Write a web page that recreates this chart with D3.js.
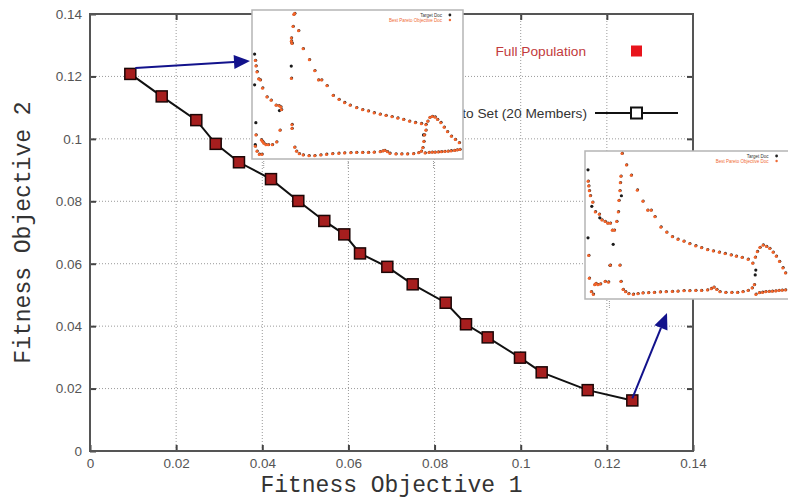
<!DOCTYPE html>
<html>
<head>
<meta charset="utf-8">
<script src="https://cdn.jsdelivr.net/npm/d3@7"></script>
<style>
  body { margin: 0; background: #fff; }
  svg { display: block; }
</style>
</head>
<body>
<script>
// pareto front (20 members)
var objective1 = [0.00936, 0.01665, 0.02468, 0.02918, 0.03459, 0.04202, 0.04836, 0.05440, 0.05904, 0.06269,
                  0.06903, 0.07492, 0.08258, 0.08730, 0.09233, 0.09983, 0.10487, 0.11555, 0.12591];
var objective2 = [0.1208, 0.1136, 0.1060, 0.0984, 0.0925, 0.0871, 0.0801, 0.0737, 0.0694, 0.0633,
                  0.0590, 0.0534, 0.0475, 0.0406, 0.0364, 0.0299, 0.0252, 0.0195, 0.0162];
var tickValues = [0, 0.02, 0.04, 0.06, 0.08, 0.1, 0.12, 0.14];
var legendLabels = ["Full Population", "Pareto Set (20 Members)"];
var insetLegend = ["Target Doc", "Best Pareto Objective Doc"];

// inset 1 (first member), both series nearly overlap
var insetA_best = [[0.6,66.5],[0.9,62.7],[1.4,58.7],[2.2,53.8],[3.0,53.1],[4.1,47.5],[6.2,41.3],[8.2,39.1],[10.6,35.7],[12.0,35.3],
  [12.9,34.4],[13.2,32.6],[18.0,54.2],[18.0,79.9],[18.0,82.1],[18.3,78.3],[18.8,90.0],[19.2,98.2],[19.6,98.9],[21.5,87.1],
  [23.7,74.6],[26.7,67.0],[29.3,59.4],[31.1,53.1],[32.6,53.1],[35.2,49.1],[38.2,42.4],[41.0,39.7],[43.7,37.5],[46.4,35.7],
  [49.5,33.9],[52.4,32.6],[55.2,31.7],[58.0,30.4],[60.9,29.5],[63.7,28.6],[66.6,27.7],[69.4,26.8],[72.2,25.9],[75.1,24.6],
  [77.9,23.7],[80.8,23.0],[83.0,22.3],[83.9,24.6],[84.9,27.2],[86.1,27.9],[87.4,27.5],[88.6,25.9],[90.2,23.7],[91.8,20.5],
  [93.4,17.4],[95.3,14.3],[97.2,12.1],[99.1,9.8],
  [0.9,15.2],[0.6,7.4],[1.4,4.0],[2.5,1.8],[3.8,1.8],[3.5,11.8],[4.1,10.7],[4.7,9.4],[5.7,8.5],[6.9,8.5],[8.8,8.5],[10.9,10.3],
  [12.5,18.5],[18.3,22.3],[18.3,19.6],[19.6,6.7],[20.5,4.0],[21.8,2.2],[23.7,1.3],[26.5,0.9],[29.3,0.9],[32.2,1.3],[35.0,1.8],
  [37.9,2.2],[40.9,2.5],[43.7,2.7],[46.7,2.9],[49.5,3.1],[52.4,3.1],[55.2,3.1],[58.0,3.3],[60.9,3.6],[62.2,4.1],[63.1,4.5],
  [64.4,3.6],[65.6,2.5],[68.5,2.0],[71.3,2.0],[74.1,2.0],[77.0,2.2],[79.5,2.9],[80.8,4.0],[81.5,6.3],[82.0,10.7],[82.3,15.2],
  [83.0,18.5],[82.6,2.7],[84.5,3.1],[86.0,3.2],[87.4,3.3],[89.0,3.4],[90.5,3.6],[92.1,3.8],[93.7,4.0],[95.2,4.2],[96.8,4.5],
  [98.1,4.8],[99.4,5.1]];
var insetA_target = [[0.3,71.0],[0.3,49.8],[0.9,23.7],[18.0,62.7],[81.9,15.2],[0.6,8.5],[12.3,32.0],[18.3,79.0]];

// inset 2 (last member)
var insetB_best = [[0.5,80.4],[0.8,77.1],[1.1,73.7],[1.6,70.3],[2.8,65.8],[4.1,59.1],[6.1,57.5],[7.4,53.5],[9.0,52.4],[10.3,51.2],
  [11.6,51.2],[12.6,46.3],[13.6,46.3],[14.8,52.4],[15.6,59.1],[15.9,67.0],[16.4,73.7],[16.6,79.3],[16.9,83.8],[17.5,99.6],
  [19.7,91.7],[22.1,84.5],[25.1,74.2],[27.9,66.5],[30.3,60.2],[32.0,60.2],[33.9,55.7],[36.9,48.5],[39.8,44.9],[42.6,41.8],
  [45.4,40.0],[48.4,38.7],[51.3,36.9],[54.3,35.5],[57.2,34.2],[60.2,32.8],[63.1,31.9],[66.1,31.0],[69.0,30.1],[72.0,29.2],
  [74.6,28.3],[77.5,27.4],[80.5,26.1],[82.8,23.4],[84.1,27.6],[85.1,31.5],[86.4,34.4],[88.0,36.0],[89.7,35.1],[91.3,33.7],
  [93.0,31.0],[94.6,28.3],[96.2,24.7],[97.9,20.2],[99.2,16.6],
  [0.8,28.8],[1.1,13.0],[2.1,3.6],[3.1,1.8],[3.8,8.5],[4.4,9.4],[5.4,8.5],[6.7,9.0],[9.0,10.8],[10.7,10.3],[11.6,22.0],
  [16.4,22.0],[16.9,10.8],[18.0,5.2],[19.2,3.6],[20.8,2.2],[23.1,1.8],[25.4,2.2],[27.9,2.7],[30.7,2.9],[33.6,3.1],[36.6,3.4],
  [39.5,3.6],[42.6,3.8],[45.4,4.0],[48.4,4.3],[51.3,4.3],[54.3,4.5],[57.2,4.5],[60.2,4.9],[62.1,5.8],[63.4,6.7],[64.8,5.2],
  [66.4,3.6],[69.3,3.1],[72.3,3.1],[75.2,3.1],[77.9,3.6],[80.5,4.5],[82.5,6.3],[83.6,8.5],[84.4,1.8],[86.1,2.9],[87.7,3.2],
  [89.3,3.6],[91.0,3.8],[92.6,4.0],[94.3,4.2],[95.9,4.5],[97.5,4.7],[99.2,4.9]];
var insetB_target = [[0.5,88.3],[0.5,41.1],[13.1,36.6],[11.5,22.0],[17.2,70.3],[84.4,18.7],[84.1,15.3],[2.4,63.0],[6.4,55.0]];

var width = 788,
    height = 501;

var svg = d3.select("body").append("svg")
    .attr("width", width)
    .attr("height", height);

var x = d3.scaleLinear().domain([0, 0.14]).range([90, 693]);
var y = d3.scaleLinear().domain([0, 0.14]).range([451, 14]);
var fmt = function(d){ return String(+d.toFixed(2)); };
var inner = tickValues.slice(1, -1);

//grid
svg.selectAll(".vgrid").data(inner).enter().append("line")
    .attr("x1", function(d){ return x(d); }).attr("x2", function(d){ return x(d); })
    .attr("y1", y(0)).attr("y2", y(0.14))
    .attr("stroke", "#9a9a9a").attr("stroke-width", 1).attr("stroke-dasharray", "1,2");
svg.selectAll(".hgrid").data(inner).enter().append("line")
    .attr("y1", function(d){ return y(d); }).attr("y2", function(d){ return y(d); })
    .attr("x1", x(0)).attr("x2", x(0.14))
    .attr("stroke", "#9a9a9a").attr("stroke-width", 1).attr("stroke-dasharray", "1,2");

//axes, gnuplot style ticks pointing in
function styleAxis(g){
    g.select(".domain").remove();
    g.selectAll(".tick line").attr("stroke", "#444").attr("stroke-width", 2);
    g.selectAll(".tick text").attr("fill", "#555")
        .style("font-family", "'Liberation Sans', Arial, sans-serif").style("font-size", "13.5px");
}
svg.append("g").attr("transform", "translate(0," + y(0) + ")")
    .call(d3.axisBottom(x).tickValues(tickValues).tickFormat(fmt).tickSize(-6).tickPadding(7))
    .call(styleAxis);
svg.append("g").attr("transform", "translate(" + x(0) + ",0)")
    .call(d3.axisLeft(y).tickValues(tickValues).tickFormat(fmt).tickSize(-6).tickPadding(8))
    .call(styleAxis);
svg.append("g").attr("transform", "translate(0," + y(0.14) + ")")
    .call(d3.axisTop(x).tickValues(inner).tickFormat("").tickSize(-6))
    .call(styleAxis);
svg.append("g").attr("transform", "translate(" + x(0.14) + ",0)")
    .call(d3.axisRight(y).tickValues(inner).tickFormat("").tickSize(-6))
    .call(styleAxis);

svg.append("rect")
    .attr("x", x(0)).attr("y", y(0.14))
    .attr("width", x(0.14) - x(0)).attr("height", y(0) - y(0.14))
    .attr("fill", "none").attr("stroke", "#555").attr("stroke-width", 2);

//axis titles
svg.append("text")
    .attr("x", (x(0) + x(0.14)) / 2).attr("y", 492)
    .attr("text-anchor", "middle")
    .style("font-family", "'Liberation Mono', 'Courier New', monospace").style("font-size", "23px")
    .attr("fill", "#333")
    .text("Fitness Objective 1");
svg.append("text")
    .attr("transform", "translate(30," + (y(0) + y(0.14)) / 2 + ") rotate(-90)")
    .attr("text-anchor", "middle")
    .style("font-family", "'Liberation Mono', 'Courier New', monospace").style("font-size", "23px")
    .attr("fill", "#333")
    .text("Fitness Objective 2");

//legend
var legFont = "'Liberation Sans', Arial, sans-serif";
svg.append("text").attr("x", 586).attr("y", 51).attr("dy", "0.35em")
    .attr("text-anchor", "end").style("font-family", legFont).style("font-size", "13.7px")
    .attr("fill", "#c23a3c").text(legendLabels[0]);
svg.append("rect").attr("x", 631).attr("y", 45.5).attr("width", 11).attr("height", 11)
    .attr("fill", "#e8141c");
svg.append("text").attr("x", 587).attr("y", 113).attr("dy", "0.35em")
    .attr("text-anchor", "end").style("font-family", legFont).style("font-size", "13.7px")
    .attr("fill", "#333").text(legendLabels[1]);
svg.append("line").attr("x1", 595).attr("x2", 678).attr("y1", 113).attr("y2", 113)
    .attr("stroke", "#111").attr("stroke-width", 2);
svg.append("rect").attr("x", 631).attr("y", 107.5).attr("width", 11).attr("height", 11)
    .attr("fill", "#fff").attr("stroke", "#111").attr("stroke-width", 2);

//pareto line and markers
var pts = objective1.map(function(d, i){ return [d, objective2[i]]; });
svg.append("path")
    .datum(pts)
    .attr("d", d3.line().x(function(d){ return x(d[0]); }).y(function(d){ return y(d[1]); }))
    .attr("fill", "none").attr("stroke", "#111").attr("stroke-width", 2);
svg.selectAll(".member").data(pts).enter().append("rect")
    .attr("x", function(d){ return x(d[0]) - 5.5; })
    .attr("y", function(d){ return y(d[1]) - 5.5; })
    .attr("width", 11).attr("height", 11)
    .attr("fill", "#a61e1e").attr("stroke", "#1c0606").attr("stroke-width", 1.5);

//insets
function drawInset(box, best, target, ticks){
    var g = svg.append("g");
    var ix = d3.scaleLinear().domain([0, 100]).range([box.x + 2, box.x + box.w - 2]);
    var iy = d3.scaleLinear().domain([0, 100]).range([box.y + box.h - 2, box.y + 2]);
    g.append("rect").attr("x", box.x).attr("y", box.y).attr("width", box.w).attr("height", box.h)
        .attr("fill", "#fff").attr("stroke", "#b5b5b5").attr("stroke-width", 1.5);
    g.selectAll(".tk").data(ticks).enter().append("line")
        .attr("x1", function(d){ return ix(d); }).attr("x2", function(d){ return ix(d); })
        .attr("y1", box.y + box.h + 2).attr("y2", box.y + box.h + 9)
        .attr("stroke", "#999").attr("stroke-width", 1).attr("stroke-dasharray", "1,1");
    g.selectAll(".bk").data(best).enter().append("circle")
        .attr("cx", function(d){ return ix(d[0]) + 0.4; }).attr("cy", function(d){ return iy(d[1]) - 0.3; })
        .attr("r", 1.5).attr("fill", "#2a2220");
    g.selectAll(".tg").data(target).enter().append("circle")
        .attr("cx", function(d){ return ix(d[0]); }).attr("cy", function(d){ return iy(d[1]); })
        .attr("r", 1.6).attr("fill", "#1a1a1a");
    g.selectAll(".bs").data(best).enter().append("circle")
        .attr("cx", function(d){ return ix(d[0]); }).attr("cy", function(d){ return iy(d[1]); })
        .attr("r", 1.5).attr("fill", "#f4652a");
    //tiny legend
    var lx = box.x + box.w * 0.9;
    g.append("text").attr("x", lx).attr("y", box.y + 6.5).attr("text-anchor", "end")
        .style("font-family", legFont).style("font-size", "4.5px").attr("fill", "#333").text(insetLegend[0]);
    g.append("text").attr("x", lx).attr("y", box.y + 11.5).attr("text-anchor", "end")
        .style("font-family", legFont).style("font-size", "4.5px").attr("fill", "#ef6a35").text(insetLegend[1]);
    g.append("circle").attr("cx", lx + 8).attr("cy", box.y + 5).attr("r", 1.4).attr("fill", "#222");
    g.append("circle").attr("cx", lx + 8).attr("cy", box.y + 10).attr("r", 1.2).attr("fill", "#ef6a35");
}
drawInset({x: 252, y: 10, w: 211, h: 149}, insetA_best, insetA_target, [4.7, 45.5, 86.7]);
drawInset({x: 585, y: 151, w: 204, h: 148}, insetB_best, insetB_target, [11.2]);

//arrows to insets
function arrow(x1, y1, x2, y2){
    var a = Math.atan2(y2 - y1, x2 - x1), L = 16, W = 7;
    var bx = x2 - L * Math.cos(a), by = y2 - L * Math.sin(a);
    svg.append("line").attr("x1", x1).attr("y1", y1).attr("x2", bx).attr("y2", by)
        .attr("stroke", "#12128c").attr("stroke-width", 2);
    svg.append("path")
        .attr("d", "M" + x2 + "," + y2 +
            "L" + (bx + W * Math.sin(a)) + "," + (by - W * Math.cos(a)) +
            "L" + (bx - W * Math.sin(a)) + "," + (by + W * Math.cos(a)) + "Z")
        .attr("fill", "#12128c");
}
var first = pts[0], last = pts[pts.length - 1];
arrow(x(first[0]) + 5, y(first[1]) - 6, 250, 61);
arrow(x(last[0]), y(last[1]) - 2, 667, 313);
</script>
</body>
</html>
